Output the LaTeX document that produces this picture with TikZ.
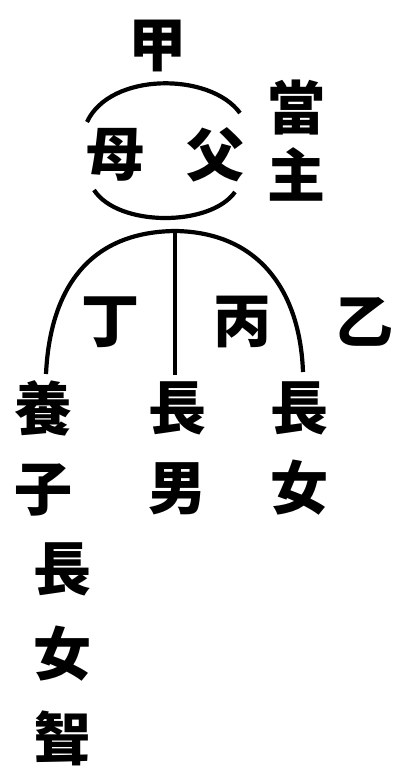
\documentclass[tikz,border=0pt]{standalone}
\usepackage{fontspec}
\newfontfamily\cjk{Noto Sans CJK JP}
\usetikzlibrary{positioning}
\tikzset{
  zi/.style={inner sep=0pt,align=center,font=\cjk\bfseries\fontsize{58}{80}\selectfont},
  xian/.style={line width=4.2pt}
}

\begin{document}
\begin{tikzpicture}[x=1pt,y=-1pt]
\useasboundingbox (0,0) rectangle (402,777);
% parents
\node[zi] (jia) at (157,46) {甲};
\node[zi] (mu) at (115,155) {母};
\node[zi] (fu) at (215,155) {父};
\node[zi,font=\cjk\bfseries\fontsize{58}{68}\selectfont] (dangzhu) at (296,141) {當\\主};
% children
\node[zi] (ding) at (110,322) {丁};
\node[zi] (bing) at (242,322) {丙};
\node[zi] (yi) at (364,322) {乙};
\node[zi] (yangzi) at (43,448) {養\\子};
\node[zi] (zhangnan) at (177,448) {長\\男};
\node[zi] (zhangnv) at (299,448) {長\\女};
\node[zi,font=\cjk\bfseries\fontsize{58}{85}\selectfont] (nvxu) at (63,654) {長\\女\\聟};
% arcs round the parents
\coordinate (shangzuo) at (87,122);
\coordinate (shangyou) at (240,113);
\coordinate (xiazuo) at (94,190);
\coordinate (xiayou) at (235,192);
\draw[xian] (shangzuo) .. controls (110,72) and (210,72) .. (shangyou);
\draw[xian] (xiazuo) .. controls (118,227) and (210,227) .. (xiayou);
% branches
\coordinate (dingdian) at (175,231);
\draw[xian] ([xshift=3pt,yshift=6pt]yangzi.north) .. controls (50,290) and (88,232) .. (dingdian)
  .. controls (258,232) and (300,290) .. ([xshift=4pt,yshift=9pt]zhangnv.north);
\draw[xian] (dingdian) -- ([xshift=-2pt,yshift=6pt]zhangnan.north);
\end{tikzpicture}
\end{document}
